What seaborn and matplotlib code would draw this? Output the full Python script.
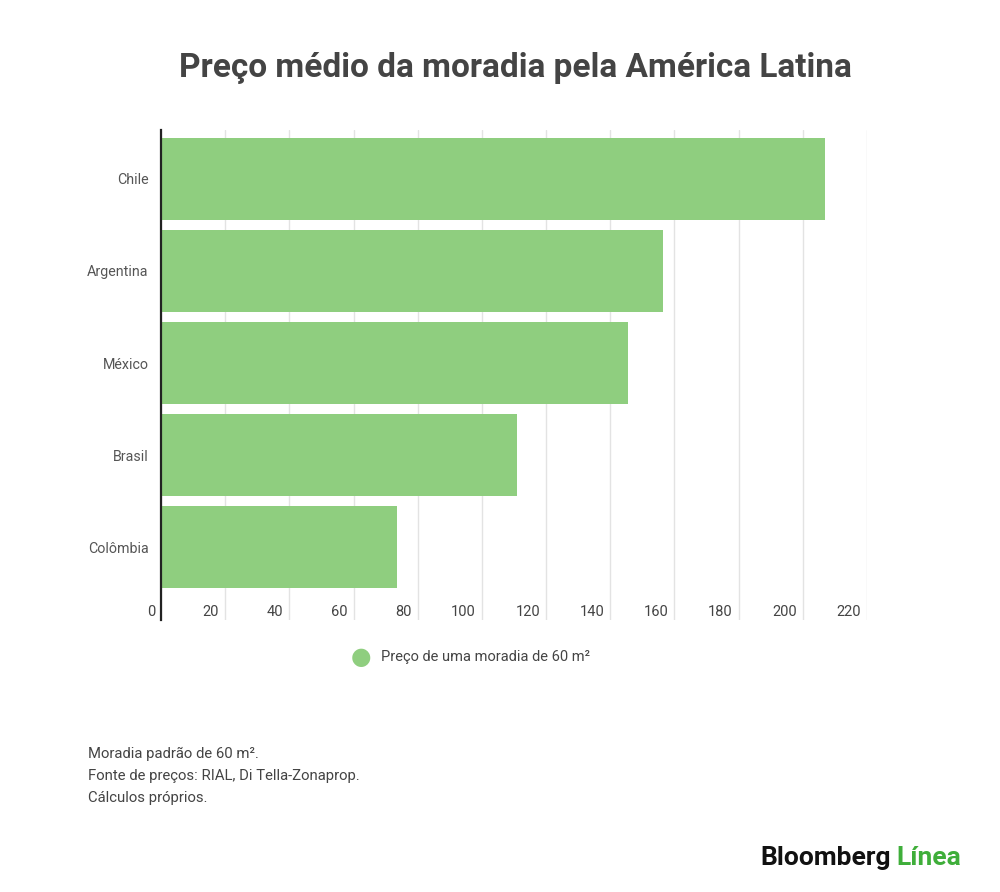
import matplotlib
matplotlib.use("Agg")
import matplotlib.pyplot as plt
import matplotlib.transforms as mtransforms
import seaborn as sns
import pandas as pd

# Dados do gráfico
paises = ["Chile", "Argentina", "México", "Brasil", "Colômbia"]
precos = [207, 156.5, 145.5, 111, 73.5]
ticks_x = [0, 20, 40, 60, 80, 100, 120, 140, 160, 180, 200, 220]
notas = ["Moradia padrão de 60 m².",
         "Fonte de preços: RIAL, Di Tella-Zonaprop.",
         "Cálculos próprios."]

verde = "#8fce7f"
cinza = "#444444"

df = pd.DataFrame({"pais": paises, "preco": precos})

sns.set_theme(style="white")
plt.rcParams["font.family"] = ["Roboto", "DejaVu Sans"]

fig = plt.figure(figsize=(10, 8.92), dpi=100)
W, H = 1000, 892
# eixo: x 161..867, y 130..620 (pixels)
ax = fig.add_axes([161 / W, 1 - 620 / H, (867 - 161) / W, (620 - 130) / H])

sns.barplot(data=df, x="preco", y="pais", color=verde, saturation=1,
            width=0.89, linewidth=0, ax=ax, zorder=2)

ax.set_xlim(0, 220)
ax.set_ylim(4.79, -0.53)
ax.set_xticks(ticks_x)
ax.set_xticklabels([str(t) for t in ticks_x])
ax.xaxis.grid(True, color="#e3e3e3", linewidth=1, zorder=0)
ax.yaxis.grid(False)
for s in ["top", "right", "bottom"]:
    ax.spines[s].set_visible(False)
ax.spines["left"].set_color("#222222")
ax.spines["left"].set_linewidth(1.6)
ax.spines["left"].set_zorder(3)
ax.set_xlabel("")
ax.set_ylabel("")

ax.tick_params(axis="x", length=0, pad=-11, labelsize=10.5, labelcolor=cinza)
ax.tick_params(axis="y", length=0, pad=9, labelsize=10.3, labelcolor="#555555")
offset = mtransforms.ScaledTranslation(-6 / 100, 0, fig.dpi_scale_trans)
for lbl in ax.get_xticklabels():
    lbl.set_horizontalalignment("right")
    lbl.set_transform(lbl.get_transform() + offset)

# Título
fig.text(515 / W, 1 - 68 / H, "Preço médio da moradia pela América Latina",
         ha="center", va="center", fontsize=24, fontweight="bold", color=cinza)

# Legenda
fig.text(361 / W, 1 - 657 / H, "●", ha="center", va="center", fontsize=17,
         color=verde, family=["DejaVu Sans"])
fig.text(381 / W, 1 - 657 / H, "Preço de uma moradia de 60 m²", ha="left",
         va="center", fontsize=10.5, color=cinza)

# Notas
for i, nota in enumerate(notas):
    fig.text(88 / W, 1 - (754 + 22 * i) / H, nota, ha="left", va="center",
             fontsize=10.7, color=cinza)

# Marca
t1 = fig.text(760 / W, 1 - 858 / H, "Bloomberg", ha="left", va="center",
              fontsize=19, fontweight="bold", color="#111111")
fig.canvas.draw()
bb = t1.get_window_extent()
fig.text((bb.x1 + 6) / W, 1 - 858 / H, "Línea", ha="left", va="center",
         fontsize=19, fontweight="bold", color="#3fae3a")

fig.savefig("out.png", dpi=100, facecolor="white")
